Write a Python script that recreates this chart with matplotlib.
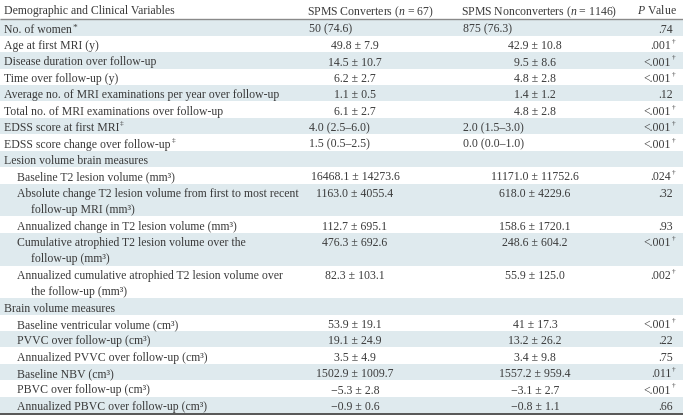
import matplotlib
matplotlib.use('Agg')
import matplotlib.pyplot as plt
from matplotlib.patches import Rectangle

plt.rcParams['font.family'] = ['Liberation Serif', 'DejaVu Serif']
plt.rcParams['mathtext.fontset'] = 'custom'
plt.rcParams['mathtext.rm'] = 'Liberation Serif'
plt.rcParams['mathtext.it'] = 'Liberation Serif:italic'

# ---------------- data ----------------
header = ["Demographic and Clinical Variables",
          "SPMS Converters ($n$ = 67)",
          "SPMS Nonconverters ($n$ = 1146)",
          "$P$ Value"]

labels = [
    "No. of women",
    "Age at first MRI (y)",
    "Disease duration over follow-up",
    "Time over follow-up (y)",
    "Average no. of MRI examinations per year over follow-up",
    "Total no. of MRI examinations over follow-up",
    "EDSS score at first MRI",
    "EDSS score change over follow-up",
    "Lesion volume brain measures",
    "Baseline T2 lesion volume (mm³)",
    "Absolute change T2 lesion volume from first to most recent\nfollow-up MRI (mm³)",
    "Annualized change in T2 lesion volume (mm³)",
    "Cumulative atrophied T2 lesion volume over the\nfollow-up (mm³)",
    "Annualized cumulative atrophied T2 lesion volume over\nthe follow-up (mm³)",
    "Brain volume measures",
    "Baseline ventricular volume (cm³)",
    "PVVC over follow-up (cm³)",
    "Annualized PVVC over follow-up (cm³)",
    "Baseline NBV (cm³)",
    "PBVC over follow-up (cm³)",
    "Annualized PBVC over follow-up (cm³)",
]
label_marks = ["*", "", "", "", "", "", "‡", "‡", "", "", "", "", "", "", "", "", "", "", "", "", ""]
indent = [0, 0, 0, 0, 0, 0, 0, 0, 0, 1, 1, 1, 1, 1, 0, 1, 1, 1, 1, 1, 1]

converters = [
    "50 (74.6)", "49.8 ± 7.9", "14.5 ± 10.7", "6.2 ± 2.7", "1.1 ± 0.5", "6.1 ± 2.7",
    "4.0 (2.5–6.0)", "1.5 (0.5–2.5)", "",
    "16468.1 ± 14273.6", "1163.0 ± 4055.4", "112.7 ± 695.1", "476.3 ± 692.6", "82.3 ± 103.1",
    "", "53.9 ± 19.1", "19.1 ± 24.9", "3.5 ± 4.9", "1502.9 ± 1009.7", "−5.3 ± 2.8", "−0.9 ± 0.6",
]
nonconverters = [
    "875 (76.3)", "42.9 ± 10.8", "9.5 ± 8.6", "4.8 ± 2.8", "1.4 ± 1.2", "4.8 ± 2.8",
    "2.0 (1.5–3.0)", "0.0 (0.0–1.0)", "",
    "11171.0 ± 11752.6", "618.0 ± 4229.6", "158.6 ± 1720.1", "248.6 ± 604.2", "55.9 ± 125.0",
    "", "41 ± 17.3", "13.2 ± 26.2", "3.4 ± 9.8", "1557.2 ± 959.4", "−3.1 ± 2.7", "−0.8 ± 1.1",
]
pvalues = [".74", ".001", "<.001", "<.001", ".12", "<.001", "<.001", "<.001", "",
           ".024", ".32", ".93", "<.001", ".002",
           "", "<.001", ".22", ".75", ".011", "<.001", ".66"]
p_marks = ["", "†", "†", "†", "", "†", "†", "†", "",
           "†", "", "", "†", "†",
           "", "†", "", "", "†", "†", ""]

# ---------------- layout ----------------
W, H = 683, 415
TXT = '#3a3a3a'
SHADE = '#dfeaee'
LINE_H = 16.4
TOP = 19.5

fig = plt.figure(figsize=(W / 100, H / 100), dpi=100)
ax = fig.add_axes([0, 0, 1, 1])
ax.set_xlim(0, W)
ax.set_ylim(H, 0)
ax.axis('off')

renderer = fig.canvas.get_renderer()
probe = ax.text(0, 0, labels[10].split('\n')[0], fontsize=10)
w = probe.get_window_extent(renderer).width
probe.remove()
FS = 10 * 282 / w
SUP = FS * 0.62

def px_width(t):
    return t.get_window_extent(renderer).width

# header
ax.text(4, 9.5, header[0], fontsize=FS, color=TXT, va='center_baseline', ha='left')
ax.text(307, 9.5, header[1], fontsize=FS, color=TXT, va='center_baseline', ha='left')
ax.text(461, 9.5, header[2], fontsize=FS, color=TXT, va='center_baseline', ha='left')
ax.text(677, 9.5, header[3], fontsize=FS, color=TXT, va='center_baseline', ha='right')
ax.plot([0, W], [TOP, TOP], color='#8a8a8a', lw=1.0, solid_capstyle='butt')

y = TOP
for i, lab in enumerate(labels):
    lines = lab.split('\n')
    h = LINE_H * len(lines)
    if i % 2 == 0:
        ax.add_patch(Rectangle((0, y), W, h, facecolor=SHADE, edgecolor='none', zorder=0))
    yc = y + LINE_H / 2 + 0.5
    x0 = 4 + 13 * indent[i]
    last = None
    for k, ln in enumerate(lines):
        xx = x0 if k == 0 else x0 + 14
        last = ax.text(xx, yc + k * LINE_H, ln, fontsize=FS, color=TXT,
                       va='center_baseline', ha='left')
    if label_marks[i]:
        xr = x0 + px_width(last)
        if label_marks[i] == '*':
            ax.text(xr + 0.5, yc - 1.5, '*', fontsize=FS * 0.8, color=TXT,
                    va='center_baseline', ha='left')
        else:
            ax.text(xr + 0.8, yc - 3.5, label_marks[i], fontsize=SUP, color=TXT,
                    va='center_baseline', ha='left')
    # value columns
    for vals, xc, xl in ((converters, 355, 309), (nonconverters, 535, 463)):
        v = vals[i]
        if not v:
            continue
        if '±' in v:
            ax.text(xc, yc, v, fontsize=FS, color=TXT, va='center_baseline', ha='center')
        else:
            ax.text(xl, yc, v, fontsize=FS, color=TXT, va='center_baseline', ha='left')
    if pvalues[i]:
        if p_marks[i]:
            ax.text(671, yc, pvalues[i], fontsize=FS, color=TXT, va='center_baseline', ha='right')
            ax.text(671.8, yc - 3.5, p_marks[i], fontsize=SUP, color=TXT,
                    va='center_baseline', ha='left')
        else:
            ax.text(673, yc, pvalues[i], fontsize=FS, color=TXT, va='center_baseline', ha='right')
    y += h

ax.plot([0, W], [y + 0.5, y + 0.5], color='#555555', lw=1.4, solid_capstyle='butt')

fig.savefig('out.png', dpi=100)
